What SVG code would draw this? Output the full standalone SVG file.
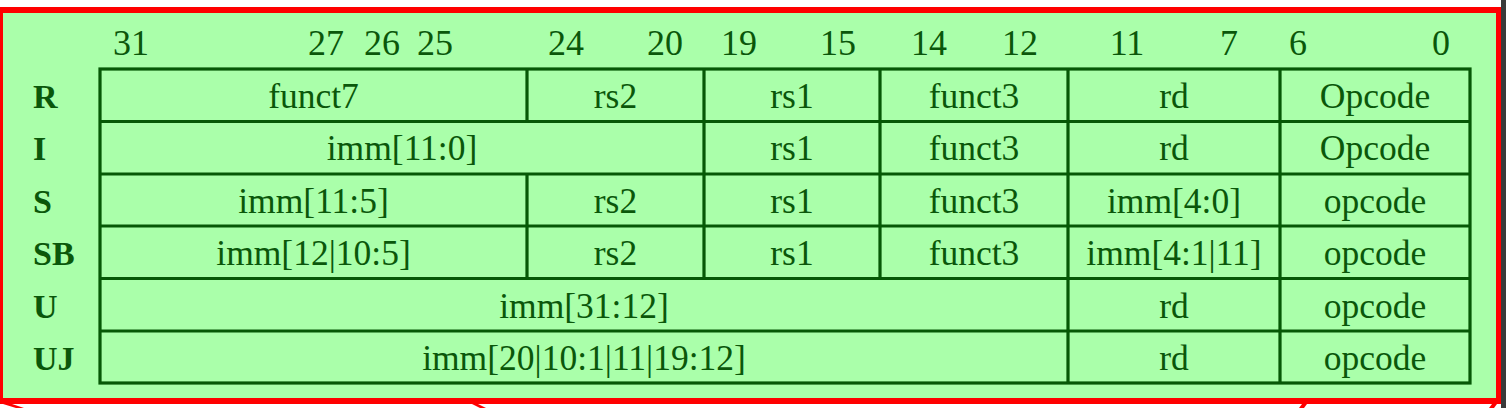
<svg xmlns="http://www.w3.org/2000/svg" width="1506" height="408" viewBox="0 0 1506 408">
<style>
.t{font-family:"Liberation Serif","Times New Roman",serif;font-size:35.5px;fill:#0a570a;text-anchor:middle}
.n{font-family:"Liberation Serif","Times New Roman",serif;font-size:36px;fill:#0a570a;text-anchor:middle}
.r{font-family:"Liberation Serif","Times New Roman",serif;font-size:34px;font-weight:bold;fill:#0a570a}
.cell{fill:none;stroke:#065806;stroke-width:3.2}
</style>
<rect x="0" y="0" width="1506" height="408" fill="#ffffff"/>
<rect x="1501" y="0" width="5" height="408" fill="#3a3a3a"/>
<rect x="0" y="7" width="1501" height="397" fill="#ff0000"/>
<rect x="3" y="13" width="1493" height="385" fill="#aaffaa"/>
<g id="arrow-fragments" fill="#ff0000">
<polygon points="3,404 12,404 24,408 16,408"/>
<polygon points="472,404 478,404 486,408 480,408"/>
<polygon points="1299,408 1302,404 1307,404 1304,408"/>
<polygon points="1489,408 1492,404 1497,404 1494,408"/>
</g>
<g id="bits">
<text class="n" x="131" y="55">31</text>
<text class="n" x="326" y="55">27</text>
<text class="n" x="382" y="55">26</text>
<text class="n" x="435" y="55">25</text>
<text class="n" x="566" y="55">24</text>
<text class="n" x="665" y="55">20</text>
<text class="n" x="739" y="55">19</text>
<text class="n" x="838" y="55">15</text>
<text class="n" x="929" y="55">14</text>
<text class="n" x="1020" y="55">12</text>
<text class="n" x="1127" y="55">11</text>
<text class="n" x="1229" y="55">7</text>
<text class="n" x="1298" y="55">6</text>
<text class="n" x="1441" y="55">0</text>
</g>
<g id="labels">
<text class="r" x="33" y="108">R</text>
<text class="r" x="33" y="160">I</text>
<text class="r" x="33" y="213">S</text>
<text class="r" x="33" y="265">SB</text>
<text class="r" x="33" y="318">U</text>
<text class="r" x="33" y="370">UJ</text>
</g>
<g id="connectors">
<rect class="cell" x="100" y="69" width="1370" height="314"/>
<path class="cell" d="M100 121.5H1470M100 174H1470M100 226H1470M100 278.5H1470M100 331H1470"/>
<path class="cell" d="M527 69V121.5M527 174V278.5M704 69V278.5M880 69V278.5M1068 69V383M1280 69V383"/>
</g>
<g id="row-R">
<text class="t" x="313.5" y="107.5">funct7</text>
<text class="t" x="615.5" y="107.5">rs2</text>
<text class="t" x="792" y="107.5">rs1</text>
<text class="t" x="974" y="107.5">funct3</text>
<text class="t" x="1174" y="107.5">rd</text>
<text class="t" x="1375" y="107.5">Opcode</text>
</g>
<g id="row-I">
<text class="t" x="402" y="160">imm[11:0]</text>
<text class="t" x="792" y="160">rs1</text>
<text class="t" x="974" y="160">funct3</text>
<text class="t" x="1174" y="160">rd</text>
<text class="t" x="1375" y="160">Opcode</text>
</g>
<g id="row-S">
<text class="t" x="313.5" y="212.5">imm[11:5]</text>
<text class="t" x="615.5" y="212.5">rs2</text>
<text class="t" x="792" y="212.5">rs1</text>
<text class="t" x="974" y="212.5">funct3</text>
<text class="t" x="1174" y="212.5">imm[4:0]</text>
<text class="t" x="1375" y="212.5">opcode</text>
</g>
<g id="row-SB">
<text class="t" x="313.5" y="264.5">imm[12|10:5]</text>
<text class="t" x="615.5" y="264.5">rs2</text>
<text class="t" x="792" y="264.5">rs1</text>
<text class="t" x="974" y="264.5">funct3</text>
<text class="t" x="1174" y="264.5">imm[4:1|11]</text>
<text class="t" x="1375" y="264.5">opcode</text>
</g>
<g id="row-U">
<text class="t" x="584" y="317.5">imm[31:12]</text>
<text class="t" x="1174" y="317.5">rd</text>
<text class="t" x="1375" y="317.5">opcode</text>
</g>
<g id="row-UJ">
<text class="t" x="584" y="369.5">imm[20|10:1|11|19:12]</text>
<text class="t" x="1174" y="369.5">rd</text>
<text class="t" x="1375" y="369.5">opcode</text>
</g>
</svg>
